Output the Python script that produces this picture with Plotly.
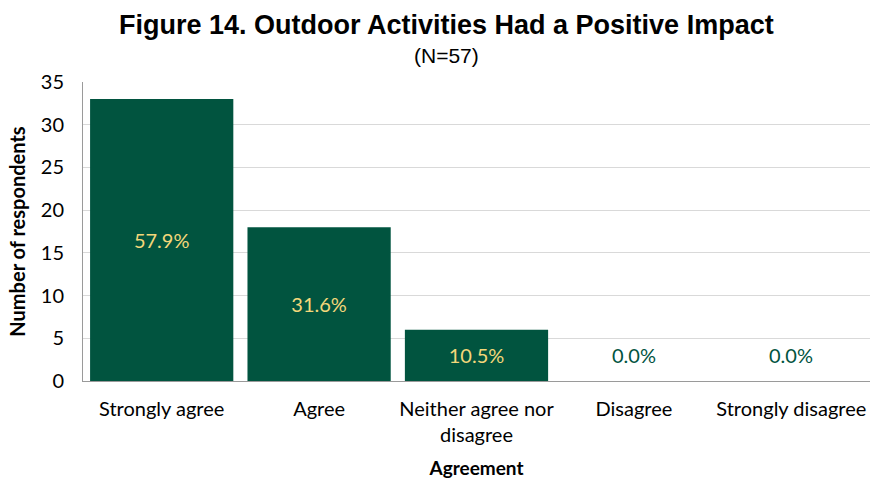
import plotly.graph_objects as go

categories = ["Strongly agree", "Agree", "Neither agree nor<br>disagree", "Disagree", "Strongly disagree"]
counts = [33, 18, 6, 0, 0]
percent_labels = ["57.9%", "31.6%", "10.5%", "0.0%", "0.0%"]
y_ticks = [0, 5, 10, 15, 20, 25, 30, 35]

bar_color = "#01543F"
label_font = "Lato, Noto Sans, sans-serif"
title_font = "Liberation Sans, Arial, sans-serif"

fig = go.Figure()
fig.add_trace(go.Bar(
    x=categories,
    y=counts,
    marker=dict(color=bar_color, line=dict(width=0)),
    text=[t if v > 0 else "" for t, v in zip(percent_labels, counts)],
    textposition="inside",
    insidetextanchor="middle",
    textangle=0,
    textfont=dict(family=label_font, size=20, color="#F3D77A"),
    hoverinfo="skip",
))

# labels for empty categories sit just above the baseline
for cat, v, t in zip(categories, counts, percent_labels):
    if v == 0:
        fig.add_annotation(x=cat, y=v, text=t, showarrow=False, yanchor="bottom", yshift=12,
                           font=dict(family=label_font, size=20, color=bar_color))

title_x = 0.4625
fig.add_annotation(text="<b>Figure 14. Outdoor Activities Had a Positive Impact</b>",
                   xref="paper", yref="paper", x=title_x, y=1, yshift=57, xanchor="center", yanchor="middle",
                   showarrow=False, font=dict(family=title_font, size=27, color="#000000"))
fig.add_annotation(text="(N=57)", xref="paper", yref="paper", x=title_x, y=1, yshift=27,
                   xanchor="center", yanchor="middle", showarrow=False,
                   font=dict(family=title_font, size=21, color="#000000"))

fig.update_layout(
    width=873, height=480,
    margin=dict(l=83, r=3, t=82, b=99),
    paper_bgcolor="white", plot_bgcolor="white",
    bargap=0.09,
    showlegend=False,
    font=dict(family=label_font, color="#000000"),
)
fig.update_xaxes(
    showline=True, linecolor="#9a9a9a", linewidth=1,
    tickfont=dict(family=label_font, size=20, color="#000000"),
    ticks="", ticklabelstandoff=10,
    title=dict(text="<b>Agreement</b>", font=dict(family=label_font, size=19), standoff=16),
)
fig.update_yaxes(
    range=[0, 35], tickvals=y_ticks,
    showline=True, linecolor="#9a9a9a", linewidth=1,
    showgrid=True, gridcolor="#d9d9d9", gridwidth=1,
    zeroline=False,
    tickfont=dict(family=label_font, size=20, color="#000000"),
    ticks="", ticklabelstandoff=14,
    title=dict(text="<b>Number of respondents</b>", font=dict(family=label_font, size=20), standoff=9),
)

fig.write_html("out.html")
